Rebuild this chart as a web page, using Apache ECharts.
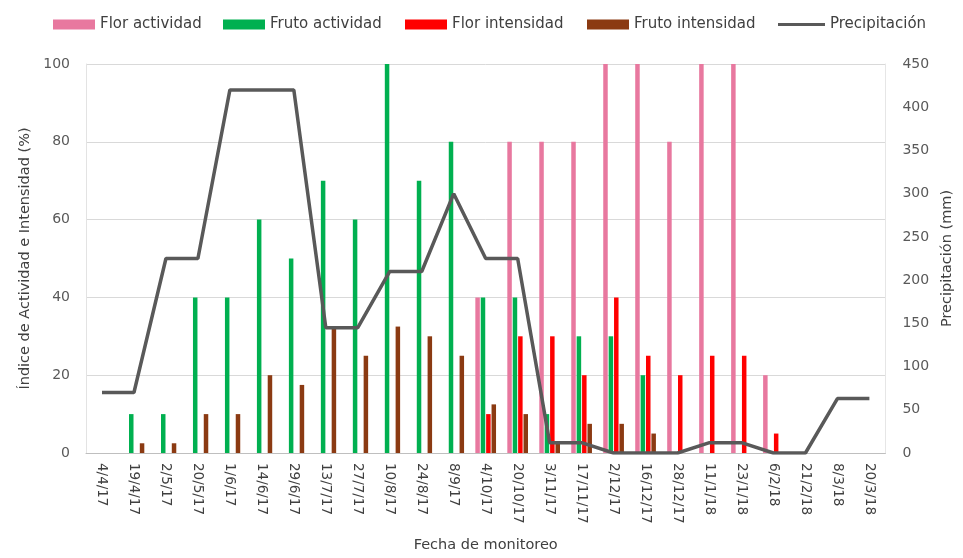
<!DOCTYPE html>
<html>
<head>
<meta charset="utf-8">
<script src="https://cdn.jsdelivr.net/npm/echarts@6/dist/echarts.min.js"></script>
<style>html,body{margin:0;padding:0;background:#fff}#c{width:963px;height:558px}</style>
</head>
<body>
<div id="c"></div>
<script>
const categories = ['4/4/17','19/4/17','2/5/17','20/5/17','1/6/17','14/6/17','29/6/17','13/7/17','27/7/17','10/8/17','24/8/17','8/9/17','4/10/17','20/10/17','3/11/17','17/11/17','2/12/17','16/12/17','28/12/17','11/1/18','23/1/18','6/2/18','21/2/18','8/3/18','20/3/18'];
const florActividad = [0,0,0,0,0,0,0,0,0,0,0,0,40,80,80,80,100,100,80,100,100,20,0,0,0];
const frutoActividad = [0,10,10,40,40,60,50,70,60,100,70,80,40,40,10,30,30,20,0,0,0,0,0,0,0];
const florIntensidad = [0,0,0,0,0,0,0,0,0,0,0,0,10,30,30,20,40,25,20,25,25,5,0,0,0];
const frutoIntensidad = [0,2.5,2.5,10,10,20,17.5,32.5,25,32.5,30,25,12.5,10,2.5,7.5,7.5,5,0,0,0,0,0,0,0];
const precipitacion = [70,70,225,225,420,420,420,145,145,210,210,300,225,225,12,12,0,0,0,12,12,0,0,63,63];
const seriesNames = ['Flor actividad','Fruto actividad','Flor intensidad','Fruto intensidad','Precipitación'];

const FONT = '"DejaVu Sans", sans-serif';
const chart = echarts.init(document.getElementById('c'), null, {renderer:'canvas'});
const barCommon = {type:'bar', barWidth:4.5, barGap:'20%', yAxisIndex:0};
const legendText = {fontFamily:FONT, fontSize:15, color:'#404040'};
const legendLefts = [48, 218, 400, 582];
const legends = seriesNames.slice(0,4).map((n,i)=>({
  top:12, left:legendLefts[i], itemWidth:42, itemHeight:10, itemGap:4,
  icon:'rect', textStyle:legendText, data:[n]
}));
legends.push({top:12, left:773, itemWidth:47, itemHeight:3, itemGap:2, icon:'rect', textStyle:legendText, data:[seriesNames[4]]});

chart.setOption({
  animation:false,
  textStyle:{fontFamily:FONT, color:'#595959'},
  legend:legends,
  grid:{left:86, right:75, top:64, bottom:103},
  xAxis:{
    type:'category', data:categories, boundaryGap:true,
    name:'Fecha de monitoreo', nameLocation:'middle', nameGap:85,
    nameTextStyle:{fontFamily:FONT, fontSize:14.5, color:'#404040'},
    axisLine:{lineStyle:{color:'#bfbfbf'}},
    axisTick:{show:false},
    axisLabel:{rotate:-90, fontSize:13.5, color:'#404040', margin:10, interval:0}
  },
  yAxis:[
    {type:'value', min:0, max:100, interval:20,
     name:'Índice de Actividad e Intensidad (%)', nameLocation:'middle', nameGap:52, nameRotate:90,
     nameTextStyle:{fontFamily:FONT, fontSize:14.5, color:'#404040'},
     axisLabel:{fontSize:14, color:'#595959', margin:16},
     axisLine:{show:true, lineStyle:{color:'#e3e3e3'}}, axisTick:{show:false},
     splitLine:{lineStyle:{color:'#d9d9d9'}}},
    {type:'value', min:0, max:450, interval:50,
     name:'Precipitación (mm)', nameLocation:'middle', nameGap:52, nameRotate:90,
     nameTextStyle:{fontFamily:FONT, fontSize:14.5, color:'#404040'},
     axisLabel:{fontSize:14, color:'#595959', margin:17},
     axisLine:{show:true, lineStyle:{color:'#e6e6e6'}}, axisTick:{show:false}, splitLine:{show:false}}
  ],
  series:[
    Object.assign({name:seriesNames[0], data:florActividad, itemStyle:{color:'#E8789F'}}, barCommon),
    Object.assign({name:seriesNames[1], data:frutoActividad, itemStyle:{color:'#00B050'}}, barCommon),
    Object.assign({name:seriesNames[2], data:florIntensidad, itemStyle:{color:'#FF0000'}}, barCommon),
    Object.assign({name:seriesNames[3], data:frutoIntensidad, itemStyle:{color:'#8B3A12'}}, barCommon),
    {name:seriesNames[4], type:'line', yAxisIndex:1, data:precipitacion, symbol:'none',
     lineStyle:{color:'#595959', width:3.5}, itemStyle:{color:'#595959'}}
  ]
});
</script>
</body>
</html>
